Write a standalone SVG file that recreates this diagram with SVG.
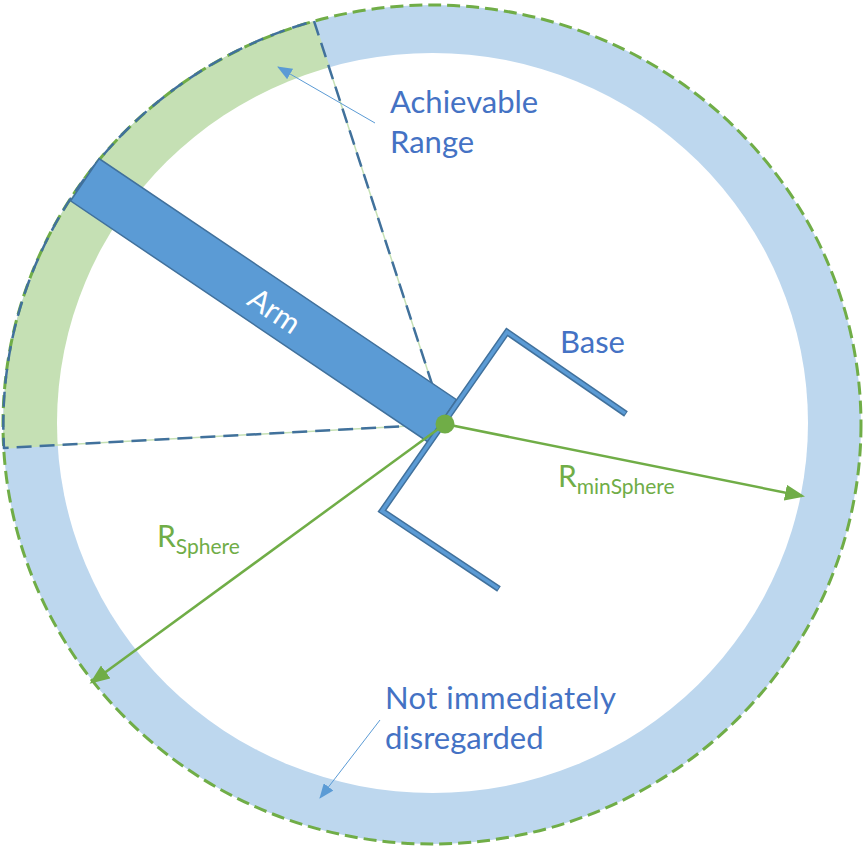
<svg xmlns="http://www.w3.org/2000/svg" width="868" height="849" viewBox="0 0 868 849">
  <style>
    .lbl { font-family: Lato, "Open Sans", "Liberation Sans", sans-serif; fill: #4472C4; font-size: 31px; }
    .glbl { font-family: Lato, "Open Sans", "Liberation Sans", sans-serif; fill: #70AD47; }
    .radial-under { stroke: #C5E0B4; stroke-width: 1.5; fill: none; }
    .radial { stroke: #41719C; stroke-width: 2.5; stroke-dasharray: 15 8; fill: none; }
    .pointer { stroke: #5B9BD5; stroke-width: 1; fill: none; }
    .radius { stroke: #70AD47; stroke-width: 2.5; fill: none; }
  </style>
  <defs>
    <marker id="greenHead" markerUnits="userSpaceOnUse" markerWidth="20" markerHeight="16" viewBox="0 0 20 16" refX="17" refY="8" orient="auto">
      <path d="M0,0 L20,8 L0,16 Z" fill="#70AD47"/>
    </marker>
    <marker id="blueHead" markerUnits="userSpaceOnUse" markerWidth="15" markerHeight="12" viewBox="0 0 15 12" refX="14" refY="6" orient="auto">
      <path d="M0,0 L15,6 L0,12 Z" fill="#5B9BD5"/>
    </marker>
  </defs>

  <g id="sphere">
    <ellipse cx="432" cy="424.5" rx="429" ry="419.5" fill="#BDD7EE"/>
    <path d="M445,424 L4,448 A429,419.5 0 0,1 314,21 Z" fill="#C5E0B4"/>
    <ellipse cx="432.5" cy="423" rx="375.5" ry="370" fill="#FFFFFF"/>
    <ellipse cx="432" cy="424.5" rx="429" ry="419.5" fill="none" stroke="#70AD47" stroke-width="3" stroke-dasharray="13 6"/>
  </g>

  <g id="achievable-range">
    <path class="radial-under" d="M445,424 L4,448 M445,424 L314,21"/>
    <path class="radial" d="M445,424 L4,448 A429,419.5 0 0,1 314,21 L445,424"/>
  </g>

  <g id="arm">
    <rect x="-215.5" y="-25.5" width="431" height="51" transform="translate(263.5,300.25) rotate(34)" fill="#5B9BD5" stroke="#41719C" stroke-width="1.5"/>
    <text transform="translate(263.5,300.25) rotate(34)" x="15" y="13" text-anchor="middle" style="font-family: Lato, 'Open Sans', 'Liberation Sans', sans-serif; font-size: 30px; fill: #FFFFFF;">Arm</text>
  </g>

  <g id="base">
    <polyline points="626,414 507,332 382,511 499,589" fill="none" stroke="#41719C" stroke-width="6.5" stroke-linejoin="miter"/>
    <polyline points="625.2,413.4 507,332 382,511 498.2,588.4" fill="none" stroke="#5B9BD5" stroke-width="3.5" stroke-linejoin="miter"/>
  </g>

  <g id="connectors">
    <line class="radius" x1="445" y1="424" x2="802" y2="496" marker-end="url(#greenHead)"/>
    <line class="radius" x1="445" y1="424" x2="92" y2="682" marker-end="url(#greenHead)"/>
    <line class="pointer" x1="375" y1="123" x2="278" y2="67" marker-end="url(#blueHead)"/>
    <line class="pointer" x1="380" y1="720" x2="320" y2="798" marker-end="url(#blueHead)"/>
  </g>

  <g id="base-point">
    <circle cx="445" cy="424" r="9.5" fill="#70AD47"/>
  </g>

  <g id="labels">
    <text class="lbl" x="390" y="113">Achievable</text>
    <text class="lbl" x="390" y="153">Range</text>
    <text class="lbl" x="560" y="353">Base</text>
    <text class="lbl" x="385" y="709" textLength="231">Not immediately</text>
    <text class="lbl" x="385" y="749">disregarded</text>
    <text class="glbl" x="558" y="487" style="font-size:30px">R<tspan dy="7" style="font-size:21px">minSphere</tspan></text>
    <text class="glbl" x="157" y="547" style="font-size:30px">R<tspan dy="7" style="font-size:21px">Sphere</tspan></text>
  </g>
</svg>
